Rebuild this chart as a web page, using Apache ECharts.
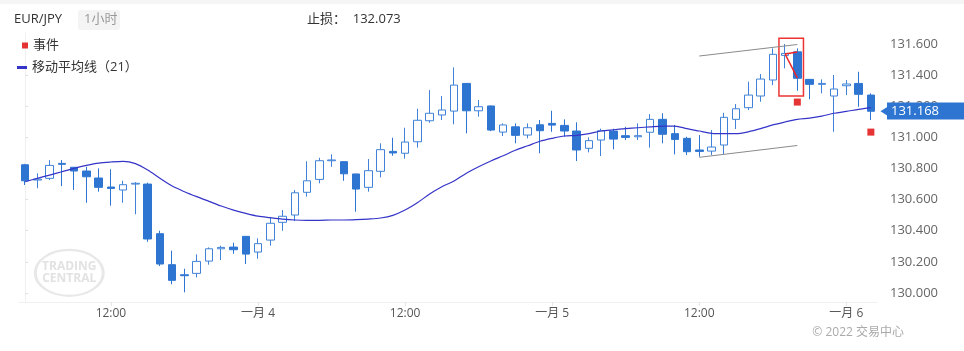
<!DOCTYPE html>
<html>
<head>
<meta charset="utf-8">
<script src="https://cdn.jsdelivr.net/npm/echarts@6.0.0/dist/echarts.min.js"></script>
<style>
  body { margin: 0; background: #fff; }
  #main { width: 964px; height: 351px; }
</style>
</head>
<body>
<div id="main"></div>
<script>
// hourly candles, index 0 = 3 Jan 05:00 ... index 69 = 6 Jan 02:00
// [open, close, low, high]
var ohlc = [
    [130.824, 130.721, 130.694, 130.830], [130.726, 130.732, 130.673, 130.769],
    [130.737, 130.820, 130.726, 130.854], [130.833, 130.827, 130.687, 130.854],
    [130.808, 130.784, 130.662, 130.810], [130.784, 130.747, 130.580, 130.811],
    [130.739, 130.679, 130.651, 130.801], [130.681, 130.672, 130.561, 130.795],
    [130.662, 130.696, 130.580, 130.721], [130.700, 130.705, 130.506, 130.713],
    [130.700, 130.347, 130.329, 130.709], [130.381, 130.186, 130.173, 130.400],
    [130.182, 130.081, 130.056, 130.272], [130.117, 130.111, 130.004, 130.156],
    [130.126, 130.203, 130.100, 130.248], [130.205, 130.284, 130.182, 130.293],
    [130.284, 130.293, 130.212, 130.304], [130.295, 130.278, 130.252, 130.323],
    [130.364, 130.250, 130.186, 130.364], [130.263, 130.317, 130.220, 130.351],
    [130.340, 130.448, 130.304, 130.482], [130.454, 130.493, 130.400, 130.533],
    [130.501, 130.644, 130.462, 130.662], [130.647, 130.721, 130.619, 130.846],
    [130.730, 130.850, 130.705, 130.869], [130.850, 130.855, 130.811, 130.891],
    [130.844, 130.766, 130.721, 130.845], [130.765, 130.668, 130.522, 130.766],
    [130.679, 130.786, 130.651, 130.861], [130.782, 130.921, 130.743, 130.962],
    [130.910, 130.900, 130.882, 130.998], [130.898, 130.970, 130.863, 131.062],
    [130.972, 131.110, 130.934, 131.184], [131.107, 131.155, 131.094, 131.304],
    [131.144, 131.176, 131.112, 131.266], [131.169, 131.336, 131.084, 131.450],
    [131.347, 131.171, 131.026, 131.350], [131.171, 131.197, 131.133, 131.240],
    [131.202, 131.047, 131.040, 131.205], [131.034, 131.080, 131.009, 131.090],
    [131.068, 131.013, 130.962, 131.090], [131.015, 131.062, 130.994, 131.090],
    [131.081, 131.043, 130.898, 131.112], [131.090, 131.079, 131.036, 131.171],
    [131.077, 131.041, 131.004, 131.116], [131.041, 130.919, 130.848, 131.097],
    [130.930, 130.979, 130.904, 131.000], [130.983, 131.043, 130.880, 131.056],
    [131.041, 130.989, 130.923, 131.056], [131.011, 131.000, 130.983, 131.068],
    [131.004, 131.011, 130.983, 131.090], [131.033, 131.116, 130.934, 131.150],
    [131.116, 131.020, 130.962, 131.155], [131.024, 130.987, 130.891, 131.080],
    [130.994, 130.908, 130.887, 131.004], [130.919, 130.910, 130.876, 131.015],
    [130.912, 130.938, 130.887, 131.047], [130.951, 131.129, 130.893, 131.158],
    [131.116, 131.184, 131.054, 131.214], [131.191, 131.272, 131.176, 131.358],
    [131.266, 131.375, 131.229, 131.407], [131.369, 131.534, 131.336, 131.572],
    [131.527, 131.540, 131.444, 131.600], [131.550, 131.380, 131.300, 131.572],
    [131.373, 131.341, 131.245, 131.375], [131.341, 131.347, 131.283, 131.373],
    [131.266, 131.311, 131.036, 131.401], [131.332, 131.343, 131.272, 131.369],
    [131.347, 131.277, 131.197, 131.422], [131.272, 131.168, 131.112, 131.283]
];

// moving average (21)
var ma21 = [
    130.715, 130.737, 130.758, 130.779, 130.801, 130.820, 130.835, 130.842, 130.846, 130.831,
    130.790, 130.737, 130.687, 130.651, 130.619, 130.589, 130.559, 130.533, 130.512, 130.494,
    130.484, 130.475, 130.469, 130.467, 130.467, 130.469, 130.469, 130.471, 130.475, 130.482,
    130.499, 130.533, 130.580, 130.636, 130.683, 130.720, 130.770, 130.811, 130.848, 130.882,
    130.917, 130.946, 130.975, 130.994, 131.009, 131.013, 131.024, 131.041, 131.049, 131.056,
    131.062, 131.068, 131.073, 131.073, 131.056, 131.041, 131.026, 131.024, 131.024, 131.036,
    131.056, 131.080, 131.099, 131.116, 131.124, 131.137, 131.155, 131.167, 131.180, 131.191
];

// events [hour index, price]
var events = [[63, 131.227], [69, 131.034]];

var lastPrice = 131.168;

// x ticks (hour index) and their labels
var xTickIdx = [7, 19, 31, 43, 55, 67];
var xTickLabels = ['12:00', '一月 4', '12:00', '一月 5', '12:00', '一月 6'];
var yTicks = [130.0, 130.2, 130.4, 130.6, 130.8, 131.0, 131.2, 131.4, 131.6];

// channel lines and the marked pattern
var upperLine = [[55, 131.523], [63, 131.597]];
var lowerLine = [[55, 130.872], [63, 130.948]];
var patternBox = [[61.5, 131.637], [63.5, 131.266]];
var patternA = [[62, 131.536], [63, 131.549]];
var patternB = [[62, 131.536], [63, 131.383]];

var candleData = ohlc.map(function (d, i) { return [i, d[0], d[1], d[2], d[3]]; });
var maData = ma21.map(function (v, i) { return [i, v]; });

var blue = '#2e75d2';
var font = "'Open Sans', 'Noto Sans CJK SC', sans-serif";

var option = {
    animation: false,
    textStyle: { fontFamily: font },
    grid: { left: 19, right: 87, top: 33, bottom: 49, outerBoundsMode: 'none' },
    legend: [
        {
            data: [{ name: '事件', icon: 'rect' }],
            orient: 'vertical', left: 22, top: 39, padding: 0,
            itemWidth: 6, itemHeight: 6, itemGap: 5,
            textStyle: { color: '#333', fontSize: 13 },
            selectedMode: false
        },
        {
            data: [{ name: '移动平均线（21）', icon: 'rect' }],
            orient: 'vertical', left: 17, top: 61, padding: 0,
            itemWidth: 10, itemHeight: 3, itemGap: 5,
            textStyle: { color: '#333', fontSize: 13 },
            selectedMode: false
        }
    ],
    xAxis: {
        type: 'value',
        min: -0.5,
        max: 69.5,
        axisLine: { show: true, lineStyle: { color: '#f0f0f0' } },
        axisTick: { show: true, customValues: xTickIdx, length: 4, lineStyle: { color: '#e6e6e6' } },
        axisLabel: {
            customValues: xTickIdx,
            color: '#555',
            fontSize: 12,
            margin: 6,
            formatter: function (v) {
                var k = xTickIdx.indexOf(Math.round(v));
                return k >= 0 ? xTickLabels[k] : '';
            }
        },
        splitLine: { show: false }
    },
    yAxis: {
        type: 'value',
        position: 'right',
        offset: 5,
        min: 129.942,
        max: 131.671,
        axisLine: { show: true, lineStyle: { color: '#f0f0f0' } },
        axisTick: { show: true, customValues: yTicks, length: 3, lineStyle: { color: '#e0e0e0' } },
        axisLabel: {
            customValues: yTicks,
            color: '#666',
            fontSize: 13,
            margin: 8,
            formatter: function (v) { return v.toFixed(3); }
        },
        splitLine: { show: false }
    },
    series: [
        {
            name: 'EUR/JPY',
            type: 'candlestick',
            data: candleData,
            encode: { x: 0, y: [1, 2, 3, 4] },
            barWidth: 8,
            clip: false,
            itemStyle: {
                color: '#ffffff',
                color0: blue,
                borderColor: '#3f82d8',
                borderColor0: blue,
                borderWidth: 1
            },
            markArea: {
                silent: true,
                itemStyle: { color: 'rgba(0,0,0,0)', borderColor: '#ee3333', borderWidth: 1.5 },
                data: [[
                    { coord: patternBox[0] },
                    { coord: patternBox[1] }
                ]]
            },
            markLine: {
                silent: true,
                symbol: ['none', 'none'],
                label: { show: false },
                data: [
                    [{ coord: upperLine[0], lineStyle: { color: '#8a8a8a', width: 1, type: 'solid' } }, { coord: upperLine[1] }],
                    [{ coord: lowerLine[0], lineStyle: { color: '#8a8a8a', width: 1, type: 'solid' } }, { coord: lowerLine[1] }],
                    [{ coord: patternA[0], lineStyle: { color: '#ee2222', width: 1.5, type: 'solid' } }, { coord: patternA[1] }],
                    [{ coord: patternB[0], lineStyle: { color: '#ee2222', width: 1.5, type: 'solid' } }, { coord: patternB[1] }],
                    {
                        yAxis: lastPrice,
                        lineStyle: { color: 'rgba(0,0,0,0)', width: 1, type: 'solid' },
                        label: {
                            show: true,
                            position: 'end',
                            distance: 10,
                            formatter: lastPrice.toFixed(3),
                            color: '#fff',
                            fontSize: 13,
                            backgroundColor: blue,
                            padding: [2, 40, 2, 4]
                        }
                    }
                ]
            },
            markPoint: {
                silent: true,
                symbol: 'triangle',
                symbolSize: [9, 7],
                symbolRotate: 90,
                symbolOffset: [7, 0],
                itemStyle: { color: blue },
                label: { show: false },
                data: [{ coord: [69.5, lastPrice] }]
            },
            z: 3
        },
        {
            name: '移动平均线（21）',
            type: 'line',
            data: maData,
            showSymbol: false,
            smooth: 0.3,
            color: '#3434c8',
            lineStyle: { width: 1.2 },
            z: 4
        },
        {
            name: '事件',
            type: 'scatter',
            data: events,
            symbol: 'rect',
            symbolSize: 7,
            color: '#e00000',
            z: 5
        }
    ],
    graphic: [
        { type: 'rect', left: 0, top: 0, shape: { width: 964, height: 4 }, style: { fill: '#f5f5f5' }, silent: true },
        { type: 'text', left: 14, top: 13, style: { text: 'EUR/JPY', fill: '#333', font: '13px ' + font } },
        { type: 'rect', left: 78, top: 10, shape: { width: 42, height: 20, r: 3 }, style: { fill: '#f4f4f4' } },
        { type: 'text', left: 84, top: 13, style: { text: '1小时', fill: '#999', font: '13px ' + font } },
        { type: 'text', left: 307, top: 13, style: { text: '止损：  132.073', fill: '#333', font: '13px ' + font } },
        {
            type: 'group', left: 31, top: 247, silent: true,
            children: [
                {
                    type: 'circle', shape: { cx: 0, cy: 0, r: 20 }, x: 36, y: 24, scaleX: 1.7, scaleY: 1.15,
                    style: { fill: 'none', stroke: '#e8e8e8', lineWidth: 2.5, strokeNoScale: true }
                },
                {
                    type: 'text', x: 36, y: 24,
                    style: { text: 'TRADING\nCENTRAL', fill: '#e2e2e2', font: 'bold 12px ' + font, align: 'center', verticalAlign: 'middle', lineHeight: 12 }
                }
            ]
        },
        { type: 'text', right: 60, top: 327, style: { text: '© 2022 交易中心', fill: '#aaa', font: '12px ' + font } }
    ]
};

var myChart = echarts.init(document.getElementById('main'));
myChart.setOption(option);
</script>
</body>
</html>
